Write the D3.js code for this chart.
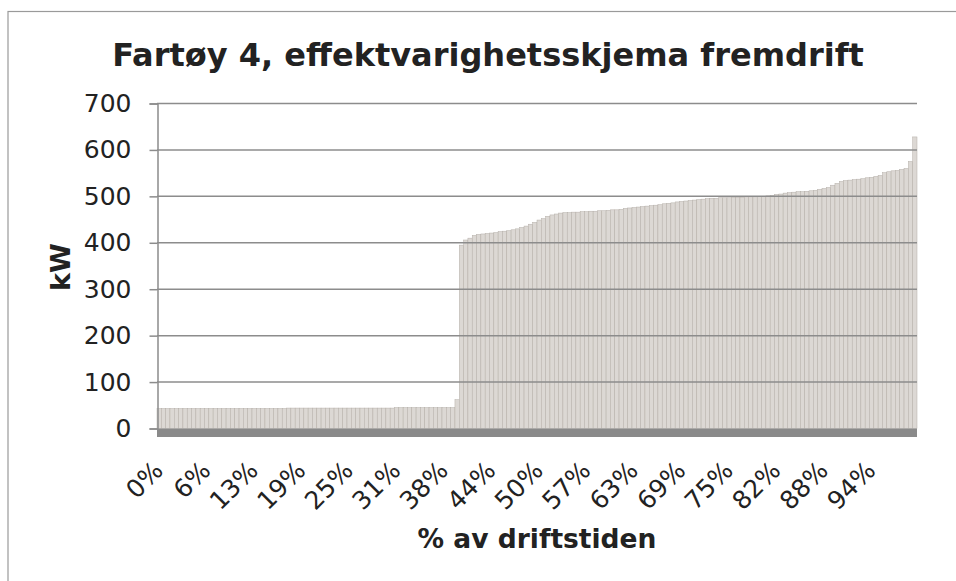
<!DOCTYPE html>
<html>
<head>
<meta charset="utf-8">
<script src="https://cdn.jsdelivr.net/npm/d3@7"></script>
<style>
  body { margin: 0; background: #fff; }
  text { font-family: "DejaVu Sans", Verdana, sans-serif; fill: #222; }
</style>
</head>
<body>
<script>
// effekt i kW, sortert stigende (176 måleintervaller)
var kw = [
  43,43,43,43,43,43,43,43,43,43, 43,43,43,43,43,43,43,43,43,43,
  43,43,43,43,43,43,43,43,43,43, 44,44,44,44,44,44,44,44,44,44,
  44,44,44,44,44,44,44,44,44,44, 44,44,44,44,44,45,45,45,45,45,
  45,45,45,45,45,45,45,45,45,62, 395,406,410,416,418,419,420,421,422,424,
  425,426,428,430,433,436,440,444,449,452, 457,460,462,464,465,465,466,466,467,467,
  468,468,469,469,470,471,471,472,474,475, 476,477,478,479,480,481,482,484,485,486,
  488,489,490,491,492,493,494,495,496,496, 497,497,497,498,498,498,499,499,499,500,
  500,501,502,504,505,507,508,509,510,510, 511,512,513,515,517,519,524,528,532,534,
  535,536,537,538,540,541,543,545,551,553, 555,556,558,560,575,628
];
var tickLabels = ["0%","6%","13%","19%","25%","31%","38%","44%","50%","57%","63%","69%","75%","82%","88%","94%"];
var tickStep = 11;
var yTicks = [0,100,200,300,400,500,600,700];

var width = 956, height = 581;
var plotLeft = 157, plotRight = 917, plotTop = 103.5, plotBottom = 428.5;

var svg = d3.select("body").append("svg")
    .attr("width", width)
    .attr("height", height)

// ramme
svg.append("rect")
    .attr("x", 8).attr("y", 11.5)
    .attr("width", 980).attr("height", 600)
    .attr("fill", "none")
    .attr("stroke", "#9a9a9a")
    .attr("stroke-width", 1.2)

var x = d3.scaleBand()
    .domain(d3.range(kw.length))
    .range([plotLeft, plotRight])
    .padding(0)

var y = d3.scaleLinear()
    .domain([0, 700])
    .range([plotBottom, plotTop])

// SØYLER
svg.append("g").selectAll("rect")
    .data(kw)
    .enter()
    .append("rect")
      .attr("x", function (d, i){ return x(i) })
      .attr("y", function (d){ return y(d) })
      .attr("width", x.bandwidth())
      .attr("height", function (d){ return y(0) - y(d) })
      .attr("fill", "#dcd8d4")
      .attr("stroke", "#b4aea8")
      .attr("stroke-width", 0.5)

// gitterlinjer over søylene
svg.append("g").selectAll("line")
    .data(yTicks.slice(1))
    .enter()
    .append("line")
      .attr("x1", plotLeft).attr("x2", plotRight)
      .attr("y1", function (d){ return y(d) })
      .attr("y2", function (d){ return y(d) })
      .attr("stroke", "#8c8c8c")
      .attr("stroke-width", 1.5)

// gulv
svg.append("rect")
    .attr("x", plotLeft).attr("y", y(0))
    .attr("width", plotRight - plotLeft).attr("height", 8.5)
    .attr("fill", "#8a8a8a")

// y-akse
var yAxis = svg.append("g")
    .attr("transform", "translate(" + (plotLeft + 0.5) + ",0)")
    .call(d3.axisLeft(y).tickValues(yTicks).tickSize(8).tickPadding(18))
yAxis.select(".domain").attr("stroke", "#8c8c8c").attr("stroke-width", 1.5)
yAxis.selectAll(".tick line").attr("stroke", "#8c8c8c").attr("stroke-width", 1.5)
yAxis.selectAll(".tick text")
    .style("font-size", "25px")
    .style("font-family", "DejaVu Sans")
    .attr("fill", "#222")

// x-etiketter, rotert
svg.append("g").selectAll("text")
    .data(tickLabels)
    .enter()
    .append("text")
      .attr("transform", function (d, i){
        var cx = x(i * tickStep) + x.bandwidth() / 2;
        return "translate(" + (cx + 5.5) + ",472) rotate(-45)";
      })
      .attr("text-anchor", "end")
      .style("font-size", "25px")
      .text(function (d){ return d })

// titler
svg.append("text")
    .attr("x", 488).attr("y", 66)
    .attr("text-anchor", "middle")
    .style("font-size", "32px")
    .style("font-weight", "bold")
    .text("Fartøy 4, effektvarighetsskjema fremdrift")

svg.append("text")
    .attr("x", (plotLeft + plotRight) / 2).attr("y", 548)
    .attr("text-anchor", "middle")
    .style("font-size", "26.5px")
    .style("font-weight", "bold")
    .text("% av driftstiden")

svg.append("text")
    .attr("transform", "translate(70,267) rotate(-90)")
    .attr("text-anchor", "middle")
    .style("font-size", "27px")
    .style("font-weight", "bold")
    .text("kW")
</script>
</body>
</html>
